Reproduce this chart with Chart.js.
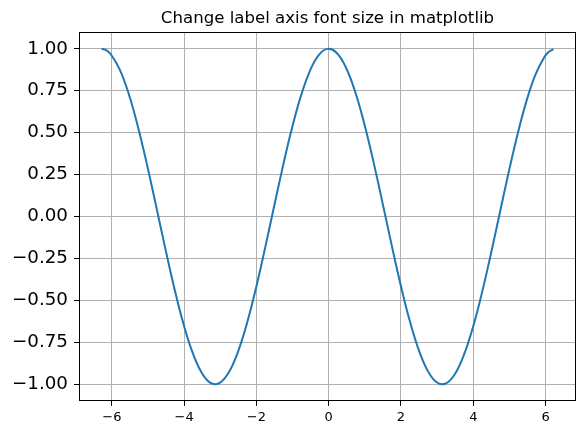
<!DOCTYPE html>
<html>
<head>
<meta charset="utf-8">
<script src="https://cdn.jsdelivr.net/npm/chart.js@4/dist/chart.umd.min.js"></script>
<style>
  html, body { margin: 0; padding: 0; background: #ffffff; }
  #wrap { width: 588px; height: 435px; }
</style>
</head>
<body>
<div id="wrap"><canvas id="c" width="588" height="435"></canvas></div>
<script>
const titleText = "Change label axis font size in matplotlib";
const xValues = [-6.283, -6.158, -6.033, -5.783, -5.533, -5.283, -5.033, -4.783, -4.533, -4.283, -4.033,
  -3.783, -3.533, -3.283, -3.033, -2.783, -2.533, -2.283, -2.033, -1.783, -1.533,
  -1.283, -1.033, -0.783, -0.533, -0.283, -0.033, 0.217, 0.467, 0.717, 0.967,
  1.217, 1.467, 1.717, 1.967, 2.217, 2.467, 2.717, 2.967, 3.217, 3.467,
  3.717, 3.967, 4.217, 4.467, 4.717, 4.967, 5.217, 5.467, 5.717, 5.967, 6.092, 6.217];
const yValues = [1.000, 0.9922, 0.9689, 0.8776, 0.7317, 0.5403, 0.3153, 0.0707, -0.1782, -0.4161, -0.6282,
  -0.8011, -0.9243, -0.9900, -0.9941, -0.9365, -0.8206, -0.6536, -0.4461, -0.2108, 0.0376,
  0.2837, 0.5121, 0.7087, 0.8612, 0.9602, 0.9994, 0.9766, 0.8930, 0.7539, 0.5679,
  0.3466, 0.1038, -0.1455, -0.3857, -0.6021, -0.7808, -0.9111, -0.9848, -0.9972, -0.9476,
  -0.8391, -0.6784, -0.4755, -0.2430, 0.0044, 0.2516, 0.4833, 0.6848, 0.8438, 0.9504, 0.9817, 0.9978];
const xTicks = [-6, -4, -2, 0, 2, 4, 6];
const yTicks = [-1.00, -0.75, -0.50, -0.25, 0.00, 0.25, 0.50, 0.75, 1.00];

const points = xValues.map((x, i) => ({ x: x, y: yValues[i] }));
const fam = "'DejaVu Sans', sans-serif";
const minus = s => s.replace('-', '\u2212');

const framePlugin = {
  id: 'frame',
  afterDraw(chart) {
    const a = chart.chartArea, ctx = chart.ctx;
    ctx.save();
    ctx.strokeStyle = '#000';
    ctx.lineWidth = 1;
    ctx.strokeRect(Math.round(a.left) + 0.5, Math.round(a.top) + 0.5,
      Math.round(a.right - a.left) - 1, Math.round(a.bottom - a.top) - 1);
    // title centred over the plotting area
    ctx.fillStyle = '#000';
    ctx.font = "16.6px " + fam;
    ctx.textAlign = 'center';
    ctx.textBaseline = 'alphabetic';
    ctx.fillText(titleText, (a.left + a.right) / 2, 22.7);
    ctx.restore();
  }
};

new Chart(document.getElementById('c'), {
  type: 'line',
  data: {
    datasets: [{
      data: points,
      borderColor: '#1f77b4',
      borderWidth: 2,
      pointRadius: 0,
      fill: false,
      tension: 0.4
    }]
  },
  options: {
    responsive: false,
    animation: false,
    layout: { padding: { left: 0, right: 12, top: 32, bottom: 0 } },
    plugins: {
      legend: { display: false },
      tooltip: { enabled: false },
      title: { display: false }
    },
    scales: {
      x: {
        type: 'linear',
        min: -6.908,
        max: 6.842,
        afterBuildTicks: s => { s.ticks = xTicks.map(v => ({ value: v })); },
        afterFit: s => { s.height = 34; },
        grid: { color: '#b0b0b0', lineWidth: 1, tickColor: '#000', tickLength: 5, tickWidth: 1 },
        border: { display: false },
        ticks: {
          color: '#000',
          font: { family: fam, size: 13 },
          padding: 4,
          maxRotation: 0,
          callback: v => minus(String(v))
        }
      },
      y: {
        type: 'linear',
        min: -1.1,
        max: 1.1,
        afterBuildTicks: s => { s.ticks = yTicks.map(v => ({ value: v })); },
        afterFit: s => { s.width = 79; },
        grid: { color: '#b0b0b0', lineWidth: 1, tickColor: '#000', tickLength: 5, tickWidth: 1 },
        border: { display: false },
        ticks: {
          color: '#000',
          font: { family: fam, size: 18.3 },
          padding: 6,
          callback: v => minus(Number(v).toFixed(2))
        }
      }
    }
  },
  plugins: [framePlugin]
});
</script>
</body>
</html>
